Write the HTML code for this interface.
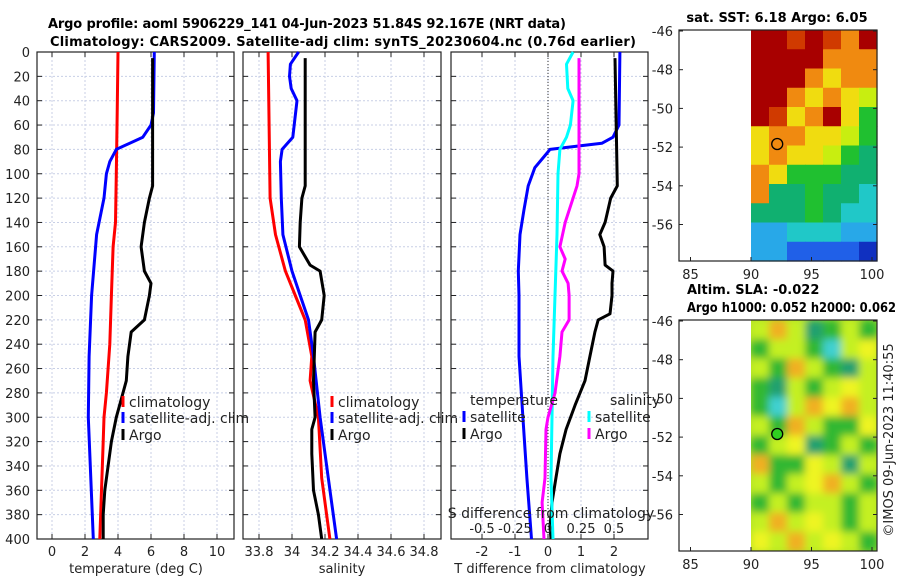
<!DOCTYPE html>
<html><head><meta charset="utf-8">
<style>
html,body{margin:0;padding:0;background:#fff;}
svg{display:block;font-family:"DejaVu Sans","Liberation Sans",sans-serif;}
.t{font-size:13px;fill:#222;}
.b{font-size:13px;font-weight:bold;fill:#000;}
</style></head>
<body>
<svg id="c" width="900" height="580" viewBox="0 0 900 580" xmlns="http://www.w3.org/2000/svg"></svg>
<script>
// ---- data (depth in m) ----
const tClimDepth=[0,50,100,140,160,200,240,280,300,320,360,400];
const tClimVal=[4.0,3.95,3.9,3.85,3.7,3.6,3.5,3.3,3.15,3.1,3.0,2.9];
const tSatDepth=[0,50,60,70,80,90,100,120,150,200,250,300,400];
const tSatVal=[6.2,6.15,6.0,5.5,3.9,3.5,3.3,3.15,2.7,2.4,2.25,2.2,2.5];
const tArgoDepth=[5,110,120,140,160,180,190,200,220,230,250,270,280,300,320,340,360,380,400];
const tArgoVal=[6.1,6.1,5.9,5.6,5.4,5.6,6.0,5.9,5.6,4.8,4.6,4.5,4.3,3.9,3.6,3.4,3.2,3.1,3.1];
const sClimDepth=[0,120,150,180,200,220,250,270,300,350,400];
const sClimVal=[33.855,33.867,33.9,33.96,34.02,34.08,34.12,34.11,34.16,34.18,34.23];
const sSatDepth=[0,10,20,30,40,70,80,90,120,150,180,200,220,250,300,350,400];
const sSatVal=[34.04,33.99,33.985,33.995,34.03,34.005,33.94,33.93,33.935,33.945,34.0,34.05,34.1,34.13,34.17,34.22,34.27];
const sArgoDepth=[5,110,120,140,160,175,180,200,220,230,270,300,310,330,360,380,400];
const sArgoVal=[34.08,34.08,34.06,34.05,34.045,34.11,34.17,34.195,34.18,34.14,34.13,34.14,34.12,34.12,34.13,34.16,34.18];
const dSatTDepth=[0,60,70,75,80,85,95,110,130,150,180,200,250,300,350,400];
const dSatTVal=[2.18,2.15,1.97,1.63,0.06,-0.09,-0.4,-0.6,-0.73,-0.85,-0.9,-0.88,-0.88,-0.76,-0.64,-0.5];
const dArgoTDepth=[5,110,120,140,150,160,175,180,190,200,215,220,230,250,270,290,310,330,350,370,390,400];
const dArgoTVal=[2.03,2.1,1.9,1.73,1.57,1.7,1.73,1.97,1.94,1.94,1.88,1.52,1.42,1.27,1.12,0.82,0.55,0.36,0.24,0.12,0.06,0.09];
const dSatSDepth=[0,10,30,40,60,70,80,100,150,200,250,300,350,400];
const dSatSVal=[0.19,0.14,0.15,0.19,0.17,0.14,0.09,0.076,0.068,0.053,0.038,0.03,0.023,0.038];
const dArgoSDepth=[5,100,110,120,140,160,170,180,190,200,220,230,250,280,300,310,350,370,400];
const dArgoSVal=[0.235,0.235,0.22,0.19,0.13,0.09,0.13,0.106,0.152,0.16,0.16,0.106,0.09,0.053,0,-0.015,-0.023,-0.045,-0.03];
const depthTicks=[0,20,40,60,80,100,120,140,160,180,200,220,240,260,280,300,320,340,360,380,400];
const tTicks=[0,2,4,6,8,10];
const sTicks=[33.8,34,34.2,34.4,34.6,34.8];
const dTTicks=[-2,-1,0,1,2];
const dSTicks=[-0.5,-0.25,0,0.25,0.5];
const dSTickLabels=["-0.5","-0.25","0","0.25","0.5"];
const lonTicks=[85,90,95,100];
const latTicks=[-46,-48,-50,-52,-54,-56];
const sstGrid=["RRrRrOR","RRRROOO","RRROYOO","RROYOYy","RrYORYG","YOOYYyG","YOYYyGg","OYGGGgg","OggGggC","gggGgCC","ccCCCcc","ccBBBBb"];
const slaGrid=["LOLTGLG","GLLGCLY","LGOLGTL","GTLGLYL","GCLOYOL","LGOLGGY","GLYTGLG","OGGYLTL","LGLYOLG","GLGLLGL","LOLYLGL","YLOLYLG"];
const argoLon=92.167, argoLat=-51.84;

const svg=document.getElementById('c');
const NS='http://www.w3.org/2000/svg';
function mk(tag,at,parent){const e=document.createElementNS(NS,tag);for(const k in at)e.setAttribute(k,at[k]);(parent||svg).appendChild(e);return e;}
function txt(s,x,y,cls,anchor,parent){const e=mk('text',{x:x,y:y,class:cls,'text-anchor':anchor||'middle'},parent);e.textContent=s;return e;}

const y0=52,y1=539;
const yD=d=>y0+(d/400)*(y1-y0);
const xT=t=>52+t*16.5;
const xS=s=>292+(s-34)*165;
const xDT=t=>548+t*33;
const xDS=s=>548+s*132;

function panel(name,L,R,ticksX,fx,labels){
  const g=mk('g',{});
  
  
  ticksX.forEach(v=>{mk('line',{x1:fx(v),x2:fx(v),y1:y0,y2:y1,stroke:'#c8cfe6','stroke-dasharray':'2,2','stroke-width':1},g);});
  depthTicks.forEach(d=>{mk('line',{x1:L,x2:R,y1:yD(d),y2:yD(d),stroke:'#c8cfe6','stroke-dasharray':'2,2','stroke-width':1},g);
    mk('line',{x1:L,x2:L+5,y1:yD(d),y2:yD(d),stroke:'#222'},g);mk('line',{x1:R-5,x2:R,y1:yD(d),y2:yD(d),stroke:'#222'},g);});
  ticksX.forEach(v=>{mk('line',{x1:fx(v),x2:fx(v),y1:y1,y2:y1-5,stroke:'#222'},g);mk('line',{x1:fx(v),x2:fx(v),y1:y0,y2:y0+5,stroke:'#222'},g);});
  mk('rect',{x:L,y:y0,width:R-L,height:y1-y0,fill:'none',stroke:'#222','stroke-width':1.2},g);
  if(labels) ticksX.forEach((v,i)=>txt(labels[i],fx(v),556,'t','middle',g));
  return g;
}
function line(g,name,depths,vals,fx,color){
  const pts=depths.map((d,i)=>fx(vals[i]).toFixed(1)+','+yD(d).toFixed(1)).join(' ');
  const p=mk('polyline',{points:pts,fill:'none',stroke:color,'stroke-width':3,'stroke-linejoin':'round'},g);
  
  
}
function legend(g,x,y,color,label){
  const r=mk('rect',{x:x-1.5,y:y-11,width:3,height:11,fill:color},g);
  
  
  txt(label,x+6,y,'t','start',g).style.fontSize='14px';
}

// titles
const t1=txt('Argo profile: aoml 5906229_141 04-Jun-2023 51.84S 92.167E (NRT data)',307,28,'b');
t1.setAttribute('textLength','518');

const t2=txt('Climatology: CARS2009. Satellite-adj clim: synTS_20230604.nc (0.76d earlier)',343,46,'b');
t2.setAttribute('textLength','586');


// y axis labels
depthTicks.forEach(d=>{const e=txt(String(d),30,yD(d)+5,'t','end');});

// panel 1
const p1=panel('temperature-panel',37,234,tTicks,xT,tTicks.map(String));
line(p1,'temp-climatology-line',tClimDepth,tClimVal,xT,'#ff0000');
line(p1,'temp-satellite-line',tSatDepth,tSatVal,xT,'#0000ff');
line(p1,'temp-argo-line',tArgoDepth,tArgoVal,xT,'#000');
legend(p1,123,407,'#ff0000','climatology');
legend(p1,123,423,'#0000ff','satellite-adj. clim');
legend(p1,123,440,'#000','Argo');
txt('temperature (deg C)',136,573,'t');

// panel 2
const p2=panel('salinity-panel',243,441,sTicks,xS,sTicks.map(String));
line(p2,'sal-climatology-line',sClimDepth,sClimVal,xS,'#ff0000');
line(p2,'sal-satellite-line',sSatDepth,sSatVal,xS,'#0000ff');
line(p2,'sal-argo-line',sArgoDepth,sArgoVal,xS,'#000');
legend(p2,332,407,'#ff0000','climatology');
legend(p2,332,423,'#0000ff','satellite-adj. clim');
legend(p2,332,440,'#000','Argo');
txt('salinity',342,573,'t');

// panel 3
const p3=panel('difference-panel',451,648,dTTicks,xDT,dTTicks.map(String));
mk('line',{x1:548,x2:548,y1:y0,y2:y1,stroke:'#333','stroke-dasharray':'1,2'},p3);
line(p3,'tdiff-satellite-line',dSatTDepth,dSatTVal,xDT,'#0000ff');
line(p3,'tdiff-argo-line',dArgoTDepth,dArgoTVal,xDT,'#000');
line(p3,'sdiff-satellite-line',dSatSDepth,dSatSVal,xDS,'#00ffff');
line(p3,'sdiff-argo-line',dArgoSDepth,dArgoSVal,xDS,'#ff00ff');
txt('temperature',470,405,'t','start',p3).style.fontSize='14px';
legend(p3,464,422,'#0000ff','satellite');
legend(p3,464,439,'#000','Argo');
txt('salinity',610,405,'t','start',p3).style.fontSize='14px';
legend(p3,589,422,'#00ffff','satellite');
legend(p3,589,439,'#ff00ff','Argo');
txt('S difference from climatology',551,518,'t','middle',p3).style.fontSize='14px';
dSTicks.forEach((v,i)=>txt(dSTickLabels[i],xDS(v),533,'t','middle',p3));
txt('T difference from climatology',550,573,'t');

// maps
const colA={R:'#a80000',r:'#d03a00',O:'#f08a10',Y:'#f0dc10',y:'#c8ee10',G:'#20c030',g:'#10b070',C:'#20c8c8',c:'#28a8e8',B:'#2060e8',b:'#1030c0'};
const colB={L:'#c4f020',Y:'#eef420',O:'#f0b020',G:'#30b830',T:'#20a070',C:'#40d0d0'};
const defs=mk('defs',{});
const flt=mk('filter',{id:'bl',x:'-5%',y:'-5%',width:'110%',height:'110%'},defs);
mk('feGaussianBlur',{stdDeviation:4},flt);
const cp=mk('clipPath',{id:'cp2'},defs);
mk('rect',{x:751,y:320,width:126,height:231},cp);

function map(name,top,grid,cols,blur){
  const L=679,R=877,H=231;
  const g=mk('g',{});
  
  
  const lonX=lon=>751+(lon-90)*12.1;
  const latY=lat=>top+1+(-46-lat)*19.35;
  const inner=mk('g',blur?{'clip-path':'url(#cp2)'}:{},g);
  if(blur) mk('rect',{x:751,y:top,width:126,height:H,fill:'#b0e028'},inner);
  const inner2=blur?mk('g',{filter:'url(#bl)'},inner):inner;
  const cw=126/7,ch=H/12;
  grid.forEach((row,r)=>{[...row].forEach((k,c)=>{
    const cell=mk('rect',{x:751+c*cw,y:top+r*ch,width:cw+0.6,height:ch+0.6,fill:cols[k]},inner2);
    
    
  });});
  const mc=mk('circle',{cx:lonX(argoLon),cy:latY(argoLat),r:5.5,fill:blur?'#30d020':'none',stroke:'#000','stroke-width':1.3},g);
  
  
  mk('rect',{x:L,y:top,width:R-L,height:H,fill:'none',stroke:'#222','stroke-width':1.2},g);
  lonTicks.forEach(v=>{mk('line',{x1:lonX(v),x2:lonX(v),y1:top+H,y2:top+H-4,stroke:'#222'},g);txt(String(v),lonX(v),top+H+18,'t','middle',g);});
  latTicks.forEach(v=>{mk('line',{x1:R,x2:R-4,y1:latY(v),y2:latY(v),stroke:'#222'},g);mk('line',{x1:L,x2:L+4,y1:latY(v),y2:latY(v),stroke:'#222'},g);txt(String(v),L-6,latY(v)+5,'t','end',g);});
  return g;
}
map('sst-map',30,sstGrid,colA,false);
map('sla-map',320,slaGrid,colB,true);
const mt1=txt('sat. SST: 6.18 Argo: 6.05',777,22,'b');

const mt2=txt('Altim. SLA: -0.022',687,294,'b','start');

const mt3=txt('Argo h1000: 0.052 h2000: 0.062',687,312,'b','start');
mt3.setAttribute('textLength','209');
mt3.setAttribute('lengthAdjust','spacingAndGlyphs');

const cr=txt('©IMOS 09-Jun-2023 11:40:55',0,0,'t','middle');
cr.setAttribute('transform','translate(893,440) rotate(-90)');

</script>
</body></html>
